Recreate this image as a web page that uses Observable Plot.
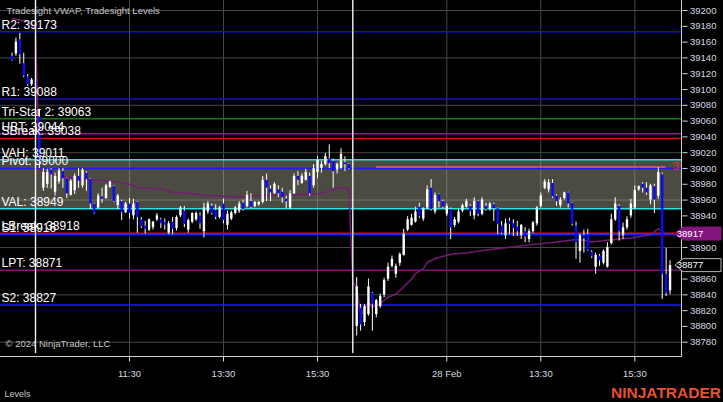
<!DOCTYPE html>
<html><head><meta charset="utf-8">
<script src="https://cdn.jsdelivr.net/npm/d3@7"></script>
<script src="https://cdn.jsdelivr.net/npm/@observablehq/plot@0.6"></script>
<style>
html,body{margin:0;padding:0;background:#000;}
#chart{width:723px;height:402px;overflow:hidden;}
</style></head><body><div id="chart"></div>
<script>
// ---------- data ----------
const titleText = "Tradesight VWAP, Tradesight Levels";
const copyrightText = "© 2024 NinjaTrader, LLC";
const tabText = "Levels";
const logoText = "NINJATRADER";

// bar slots: previous session tail, day 1 (27 Feb), day 2 (28 Feb)
const barIdx = [...d3.range(-6, 81), ...d3.range(82, 163)];
const barOpen = [
  39142,39145,39163,39133,39116,39106,39110,39065,
  38975,38980,38998,38970,38983,38996,38987,38966,38972,38990,
  38978,38994,38986,38955,38950,38964,38962,38976,38977,38953,
  38958,38944,38955,38940,38957,38935,38927,38922,38925,38935,
  38935,38932,38918,38932,38924,38940,38946,38922,38932,38935,
  38940,38920,38945,38952,38947,38938,38955,38928,38936,38943,
  38946,38956,38952,38958,38952,38954,38957,38985,38974,38968,
  38973,38970,38961,38950,38968,38990,38981,38985,38990,38978,
  38995,39000,39005,39012,39009,38998,39000,39007,39005,
  38800,38823,38805,38815,38842,38815,38825,38840,38860,38876,
  38866,38880,38890,38922,38928,38932,38951,38936,38950,38975,
  38945,38967,38958,38942,38948,38928,38932,38946,38951,38952,
  38940,38958,38942,38952,38948,38954,38949,38927,38915,38933,
  38930,38926,38915,38920,38910,38920,38930,38952,38975,38973,
  38981,38965,38953,38962,38969,38956,38927,38895,38915,38916,
  38894,38875,38889,38880,38875,38905,38935,38952,38915,38925,
  38940,38950,38973,38980,38975,38960,38977,38965,38992,38866,
  38845
];
const barHigh = [
  39146,39165,39171,39146,39119,39114,39112,39075,
  39000,38999,39000,38994,39000,39000,38988,38986,38993,39000,
  39000,38996,38987,38956,38968,38975,38980,38984,38978,38967,
  38960,38957,38962,38961,38958,38938,38933,38936,38933,38943,
  38937,38936,38933,38938,38940,38952,38952,38936,38944,38945,
  38944,38956,38958,38955,38954,38952,38961,38946,38946,38952,
  38958,38960,38971,38968,38958,38958,38990,38993,38978,38982,
  38978,38975,38965,38972,38993,38996,38993,38999,38994,39005,
  39015,39009,39019,39030,39012,39007,39025,39015,39006,
  38862,38828,38828,38860,38843,38834,38841,38861,38880,38889,
  38879,38893,38923,38939,38942,38951,38956,38950,38978,38986,
  38969,38968,38960,38955,38950,38938,38948,38955,38961,38954,
  38963,38959,38963,38956,38957,38956,38950,38933,38936,38937,
  38935,38933,38929,38925,38923,38933,38952,38969,38986,38986,
  38986,38967,38963,38970,38970,38957,38932,38917,38922,38923,
  38896,38893,38891,38897,38906,38942,38963,38954,38931,38939,
  38961,38978,38978,38982,38982,38980,38980,39001,38994,38899,
  38883
];
const barLow = [
  39136,39142,39132,39115,39104,39104,39103,39000,
  38971,38975,38974,38965,38980,38975,38962,38965,38967,38975,
  38975,38971,38948,38942,38949,38956,38961,38975,38957,38948,
  38934,38943,38936,38935,38918,38924,38917,38920,38922,38933,
  38924,38922,38916,38916,38921,38938,38925,38918,38930,38933,
  38923,38912,38942,38941,38935,38936,38930,38922,38934,38941,
  38943,38946,38950,38949,38950,38952,38955,38958,38958,38967,
  38963,38956,38949,38948,38967,38978,38980,38984,38965,38975,
  38987,38994,39003,39000,38975,38993,38999,38996,38999,
  38788,38794,38800,38813,38794,38811,38823,38836,38857,38874,
  38861,38876,38889,38920,38927,38931,38937,38933,38948,38946,
  38942,38950,38949,38939,38910,38925,38930,38944,38950,38939,
  38935,38939,38940,38946,38946,38933,38916,38916,38910,38916,
  38914,38914,38910,38906,38906,38918,38927,38950,38973,38969,
  38962,38952,38950,38960,38950,38927,38885,38880,38893,38895,
  38886,38866,38876,38878,38874,38903,38933,38908,38910,38922,
  38937,38948,38971,38969,38966,38954,38943,38961,38834,38838,
  38840
];
const barClose = [
  39137,39160,39144,39117,39106,39112,39105,39008,
  38995,38995,38992,38990,38997,38987,38968,38984,38990,38984,
  38998,38986,38955,38943,38965,38961,38978,38983,38958,38965,
  38944,38955,38943,38955,38938,38926,38923,38935,38932,38940,
  38930,38928,38930,38923,38938,38950,38929,38934,38943,38943,
  38930,38950,38955,38943,38938,38950,38934,38942,38944,38950,
  38955,38948,38966,38951,38957,38957,38985,38975,38969,38980,
  38968,38963,38958,38968,38990,38985,38990,38995,38968,39000,
  39010,39005,39015,39006,38996,39005,39018,39005,39000,
  38850,38802,38825,38850,38828,38833,38838,38858,38875,38885,
  38876,38891,38917,38935,38937,38945,38939,38948,38973,38948,
  38966,38958,38951,38952,38925,38935,38945,38953,38958,38945,
  38958,38942,38960,38948,38955,38949,38929,38918,38930,38929,
  38924,38920,38928,38913,38920,38931,38950,38965,38983,38982,
  38964,38958,38960,38969,38955,38929,38906,38915,38911,38896,
  38888,38890,38883,38895,38900,38935,38955,38920,38925,38935,
  38955,38972,38977,38975,38969,38978,38960,38995,38866,38842,
  38877
];

// Tradesight VWAP (read at these bar slots)
const vwapIdx = [-6,-4,-2,0,1,2,8,13,17,20,24,26,32,35,40,43,52,58,67,72,74,75,78,80,
  81,82,83,84,85,86,87,88,90,92,94,96,97,99,100,102,105,107,110,114,124,133,138,140,142,146,152,157,159,161,162];
const vwapVal = [39190,39188,39186,39178,39000,38995,38989,38986,38985,38983,38980,38976,38974,38970,38968,38966,38964,38966,38967,38968,38970,38972,38976,38974,
  38856,38850,38814,38822,38831,38824,38827,38829,38837,38841,38850,38860,38867,38873,38881,38886,38890,38892,38893,38896,38902,38907,38910,38909,38907,38909,38912,38916,38924,38917,38917];

// Tradesight levels
const levelNames  = ["R2","R1","Tri-Star 2","UBT","SBreak","VAH","Pivot","VAL","S1","LBreak","LPT","S2"];
const levelValues = [39173,39088,39063,39044,39038,39011,39000,38949,38916,38918,38871,38827];
const levelColors = ["#0a0aff","#1414c8","#0c7a12","#8c1a8c","#dc0a0a","#1ee6e6","#1a1aff","#1ee6e6","#1a1aff","#e00a0a","#7d147d","#1a1aff"];
const valueAreaLow = 38949, valueAreaHigh = 39011;

// drawing object (line + label)
const drawValue = 39002, drawStart = 87, drawEnd = 161, drawLabel = "3";

// right-axis price markers
const vwapLast = 38917, lastPrice = 38877;

// axes (38880 and 38920 sit under the price markers)
const xTickIdx = [24, 48, 72, 105, 129, 153];
const xTickLabels = ["11:30", "13:30", "15:30", "28 Feb", "13:30", "15:30"];
const yTickValues = [38780,38800,38820,38840,38860,38900,38940,38960,38980,39000,39020,39040,39060,39080,39100,39120,39140,39160,39180,39200];
const yGridValues = [38780,38840,38900,38960,39020,39080,39140,39200];
const sessionStarts = [0, 81];

// ---------- build ----------
const bars = barIdx.map((i, k) => ({i, o: barOpen[k], h: barHigh[k], l: barLow[k], c: barClose[k]}));
const vwap = vwapIdx.map((i, k) => ({i, v: vwapVal[k]}));
const levels = levelNames.map((n, k) => ({name: n, v: levelValues[k], color: levelColors[k]}));
const FONT = "'Liberation Sans', Arial, sans-serif";
const AXIS_COLOR = "#d6dae2";

function overlay(index, scales, values, dimensions) {
  const {width, height, marginRight, marginBottom} = dimensions;
  const right = width - marginRight, bottom = height - marginBottom;
  const g = d3.create("svg:g");
  g.append("line").attr("x1", 0).attr("x2", right).attr("y1", bottom).attr("y2", bottom)
    .attr("stroke", "#d0d0d0").attr("stroke-width", 1);
  g.append("line").attr("x1", right).attr("x2", right).attr("y1", 0).attr("y2", bottom)
    .attr("stroke", "#d0d0d0").attr("stroke-width", 1);
  const marker = (v, fill, stroke, label) => {
    const y = scales.y(v);
    g.append("path")
      .attr("d", `M${right - 6.5},${y} L${right + 1.5},${y - 6.5} H${width - 2} V${y + 6.5} H${right + 1.5} Z`)
      .attr("fill", fill).attr("stroke", stroke).attr("stroke-width", 1);
    g.append("text").attr("x", right + 8.5).attr("y", y).attr("dy", "0.33em")
      .attr("fill", "#ffffff").attr("font-size", 9.5).attr("font-family", FONT).text(label);
  };
  marker(vwapLast, "#84157f", "#84157f", String(vwapLast));
  marker(lastPrice, "#000000", "#b4b4b4", String(lastPrice));
  return g.node();
}

const chart = Plot.plot({
  width: 723, height: 402,
  marginLeft: 0, marginRight: 41.5, marginTop: 0, marginBottom: 45.5,
  style: {background: "#000", color: AXIS_COLOR, fontFamily: FONT, fontSize: "9.5px"},
  x: {type: "linear", domain: [-8.935, 165.05], axis: null, label: null},
  y: {type: "linear", domain: [38761.3, 39212.7], axis: null, label: null},
  color: {type: "identity"},
  marks: [
    Plot.gridY(yGridValues, {stroke: "#474747", strokeOpacity: 1}),
    Plot.gridX(xTickIdx, {stroke: "#474747", strokeOpacity: 1}),
    Plot.rect([{lo: valueAreaLow, hi: valueAreaHigh}], {y1: "lo", y2: "hi", fill: "#b6b29e", fillOpacity: 0.42}),
    Plot.ruleY(levels, {y: "v", stroke: "color", strokeWidth: 1.5}),
    Plot.ruleY([{v: drawValue, a: drawStart, b: drawEnd}], {y: "v", x1: "a", x2: "b", stroke: "#d4685a", strokeWidth: 1.5}),
    Plot.line(vwap, {x: "i", y: "v", stroke: "#741c74", strokeWidth: 1.5, curve: "linear"}),
    Plot.ruleX(bars, {x: "i", y1: "l", y2: "h", stroke: "#ffffff", strokeWidth: 1}),
    Plot.ruleX(bars, {x: "i", y1: "o", y2: "c", stroke: d => d.c >= d.o ? "#ffffff" : "#0a0aff", strokeWidth: 2.4}),
    Plot.ruleX(sessionStarts, {stroke: "#f2f2f2", strokeWidth: 1.4, insetBottom: 3.5}),
    Plot.text(levels, {y: "v", text: d => `${d.name}: ${d.v}`, frameAnchor: "left", dx: 1, dy: -3,
      lineAnchor: "bottom", textAnchor: "start", fill: "#ffffff", fontSize: 12}),
    Plot.text([{v: drawValue}], {y: "v", text: () => drawLabel, frameAnchor: "right", dx: -3, textAnchor: "end",
      fill: "#ff2a2a", fontSize: 11}),
    Plot.axisX(xTickIdx, {anchor: "bottom", tickSize: 5, tickPadding: 8, label: null,
      tickFormat: d => xTickLabels[xTickIdx.indexOf(d)], color: AXIS_COLOR, fontSize: 9.5}),
    Plot.axisY(yTickValues, {anchor: "right", tickSize: 5, tickPadding: 3, label: null,
      tickFormat: d => String(d), color: AXIS_COLOR, fontSize: 9.5}),
    Plot.text([titleText], {text: d => d, frameAnchor: "top-left", dx: 6, dy: 7, lineAnchor: "top",
      fill: "#c8c8c8", fontSize: 9.5}),
    Plot.text([copyrightText], {text: d => d, frameAnchor: "bottom-left", dx: 5, dy: -10, lineAnchor: "bottom",
      fill: "#c4c4c4", fontSize: 9.5}),
    Plot.text([tabText], {text: d => d, frameAnchor: "bottom-left", dx: 4, dy: 40, lineAnchor: "bottom",
      textAnchor: "start", fill: "#c8c8c8", fontSize: 9}),
    Plot.text([logoText], {text: d => d, frameAnchor: "bottom-right", dx: 39, dy: 40.5, lineAnchor: "bottom",
      textAnchor: "end", fill: "#e4532d", fontSize: 15.5, fontWeight: "bold"}),
    overlay
  ]
});
document.getElementById("chart").appendChild(chart);
</script>
</body></html>
